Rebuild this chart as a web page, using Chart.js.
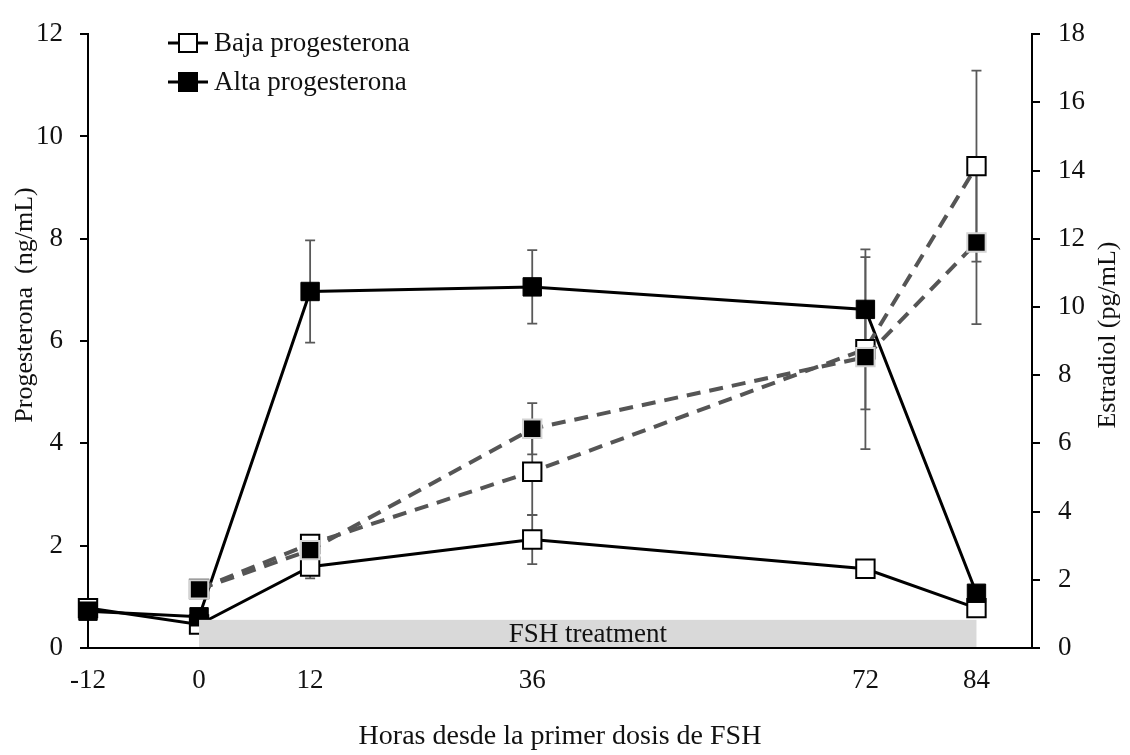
<!DOCTYPE html>
<html>
<head>
<meta charset="utf-8">
<script src="https://cdn.jsdelivr.net/npm/chart.js@4.4.0/dist/chart.umd.min.js"></script>
<style>
  html, body { margin: 0; padding: 0; background: #fff; }
</style>
</head>
<body>
<canvas id="chart" width="1130" height="755"></canvas>
<script>
// hours since first FSH dose
const hours = [-12, 0, 12, 36, 72, 84];
const xTicks = [-12, 0, 12, 36, 72, 84];

// progesterone (ng/mL), left axis
const p4Baja = [0.78, 0.46, 1.59, 2.12, 1.55, 0.78];
const p4BajaErr = [0.05, 0.05, 0.23, 0.48, 0.1, 0.1];
const p4Alta = [0.72, 0.61, 6.97, 7.06, 6.62, 1.07];
const p4AltaErr = [0.05, 0.05, 1.0, 0.72, 1.02, 0.1];

// estradiol (pg/mL), right axis
const e2Hours = [0, 12, 36, 72, 84];
const e2Baja = [1.73, 3.05, 5.17, 8.76, 14.13];
const e2BajaErr = [0.1, 0.25, 1.27, 2.93, 2.8];
const e2Alta = [1.72, 2.87, 6.43, 8.53, 11.89];
const e2AltaErr = [0.1, 0.2, 0.75, 1.53, 2.39];

// FSH treatment period (hours) and band height on the progesterone axis
const fshPeriod = [0, 84];
const fshLevel = 0.55;

const FONT = '"Liberation Serif", "Times New Roman", serif';
const pts = (xs, ys) => xs.map((x, i) => ({ x: x, y: ys[i] }));

const errorBars = {
  id: 'errorBars',
  beforeDatasetsDraw(chart) {
    const ctx = chart.ctx;
    const xs = chart.scales.x;
    ctx.save();
    ctx.strokeStyle = '#595959';
    ctx.lineWidth = 1.8;
    chart.data.datasets.forEach(ds => {
      if (!ds.err) return;
      const ys = chart.scales[ds.yAxisID];
      ds.data.forEach((p, i) => {
        const e = ds.err[i];
        const x = xs.getPixelForValue(p.x);
        const y1 = ys.getPixelForValue(p.y - e);
        const y2 = ys.getPixelForValue(p.y + e);
        ctx.beginPath();
        ctx.moveTo(x, y1); ctx.lineTo(x, y2);
        ctx.moveTo(x - 5, y1); ctx.lineTo(x + 5, y1);
        ctx.moveTo(x - 5, y2); ctx.lineTo(x + 5, y2);
        ctx.stroke();
      });
    });
    ctx.restore();
  }
};

const fshBand = {
  id: 'fshBand',
  afterDatasetsDraw(chart) {
    const ctx = chart.ctx;
    const xs = chart.scales.x, ys = chart.scales.y;
    const x1 = xs.getPixelForValue(fshPeriod[0]);
    const x2 = xs.getPixelForValue(fshPeriod[1]);
    const y1 = ys.getPixelForValue(fshLevel);
    const y2 = ys.getPixelForValue(0);
    ctx.save();
    ctx.fillStyle = '#d9d9d9';
    ctx.fillRect(x1, y1, x2 - x1, y2 - y1 - 1);
    ctx.fillStyle = '#111';
    ctx.font = '27px ' + FONT;
    ctx.textAlign = 'center';
    ctx.textBaseline = 'middle';
    ctx.fillText('FSH treatment', (x1 + x2) / 2, (y1 + y2) / 2 + 1);
    ctx.restore();
  }
};

const decorations = {
  id: 'decorations',
  afterDraw(chart) {
    const ctx = chart.ctx;
    ctx.save();
    ctx.fillStyle = '#111';
    ctx.textBaseline = 'middle';
    ctx.textAlign = 'center';
    ctx.font = '28px ' + FONT;
    ctx.fillText('Horas desde la primer dosis de FSH', 560, 737);

    ctx.font = '26px ' + FONT;
    ctx.save();
    ctx.translate(25, 305);
    ctx.rotate(-Math.PI / 2);
    ctx.fillText('Progesterona  (ng/mL)', 0, 0);
    ctx.restore();

    ctx.save();
    ctx.translate(1108, 335);
    ctx.rotate(-Math.PI / 2);
    ctx.fillText('Estradiol (pg/mL)', 0, 0);
    ctx.restore();

    // legend
    const items = [chart.data.datasets[0], chart.data.datasets[1]];
    const rows = [43, 82];
    ctx.font = '27px ' + FONT;
    ctx.textAlign = 'left';
    items.forEach((ds, i) => {
      const y = rows[i];
      ctx.strokeStyle = '#000';
      ctx.lineWidth = 3;
      ctx.beginPath();
      ctx.moveTo(168, y); ctx.lineTo(208, y);
      ctx.stroke();
      ctx.fillStyle = ds.pointBackgroundColor;
      ctx.fillRect(179, y - 9, 18, 18);
      ctx.lineWidth = 2;
      ctx.strokeRect(179, y - 9, 18, 18);
      ctx.fillStyle = '#111';
      ctx.fillText(ds.label, 214, y + 1);
    });
    ctx.restore();
  }
};

const solid = { borderColor: '#000', borderWidth: 3, pointStyle: 'rect', pointRadius: 13, pointHoverRadius: 13, clip: false };
const dashed = { borderColor: '#555', borderWidth: 4, borderDash: [14, 9], pointStyle: 'rect', pointRadius: 13, pointHoverRadius: 13, clip: false };

new Chart(document.getElementById('chart').getContext('2d'), {
  type: 'line',
  data: {
    datasets: [
      Object.assign({ label: 'Baja progesterona', data: pts(hours, p4Baja), err: p4BajaErr, yAxisID: 'y', order: 4,
        pointBackgroundColor: '#fff', pointBorderColor: '#000', pointBorderWidth: 2 }, solid),
      Object.assign({ label: 'Alta progesterona', data: pts(hours, p4Alta), err: p4AltaErr, yAxisID: 'y', order: 3,
        pointBackgroundColor: '#000', pointBorderColor: '#000', pointBorderWidth: 1 }, solid),
      Object.assign({ label: 'Estradiol baja', data: pts(e2Hours, e2Baja), err: e2BajaErr, yAxisID: 'y1', order: 2,
        pointBackgroundColor: '#fff', pointBorderColor: '#000', pointBorderWidth: 2 }, dashed),
      Object.assign({ label: 'Estradiol alta', data: pts(e2Hours, e2Alta), err: e2AltaErr, yAxisID: 'y1', order: 1,
        pointBackgroundColor: '#000', pointBorderColor: '#d4d4d4', pointBorderWidth: 2 }, dashed)
    ]
  },
  options: {
    responsive: false,
    animation: false,
    devicePixelRatio: 1,
    layout: { padding: { top: 21, left: 0, right: 0, bottom: 0 } },
    plugins: { legend: { display: false }, tooltip: { enabled: false } },
    scales: {
      x: {
        type: 'linear', min: -12, max: 90,
        afterBuildTicks: s => { s.ticks = xTicks.map(v => ({ value: v })); },
        afterFit: s => { s.height = 107; },
        grid: { display: false, drawTicks: false },
        border: { display: true, color: '#000', width: 2 },
        ticks: { color: '#111', font: { family: FONT, size: 27 }, padding: 17, maxRotation: 0 }
      },
      y: {
        position: 'left', min: 0, max: 12,
        afterFit: s => { s.width = 88; },
        grid: { display: true, drawOnChartArea: false, tickLength: 8, color: '#000', lineWidth: 2 },
        border: { display: true, color: '#000', width: 2 },
        ticks: { stepSize: 2, color: '#111', font: { family: FONT, size: 27 }, padding: 17 }
      },
      y1: {
        position: 'right', min: 0, max: 18,
        afterFit: s => { s.width = 98; },
        grid: { display: true, drawOnChartArea: false, tickLength: 8, color: '#000', lineWidth: 2 },
        border: { display: true, color: '#000', width: 2 },
        ticks: { stepSize: 2, color: '#111', font: { family: FONT, size: 27 }, padding: 18 }
      }
    }
  },
  plugins: [errorBars, fshBand, decorations]
});
</script>
</body>
</html>
